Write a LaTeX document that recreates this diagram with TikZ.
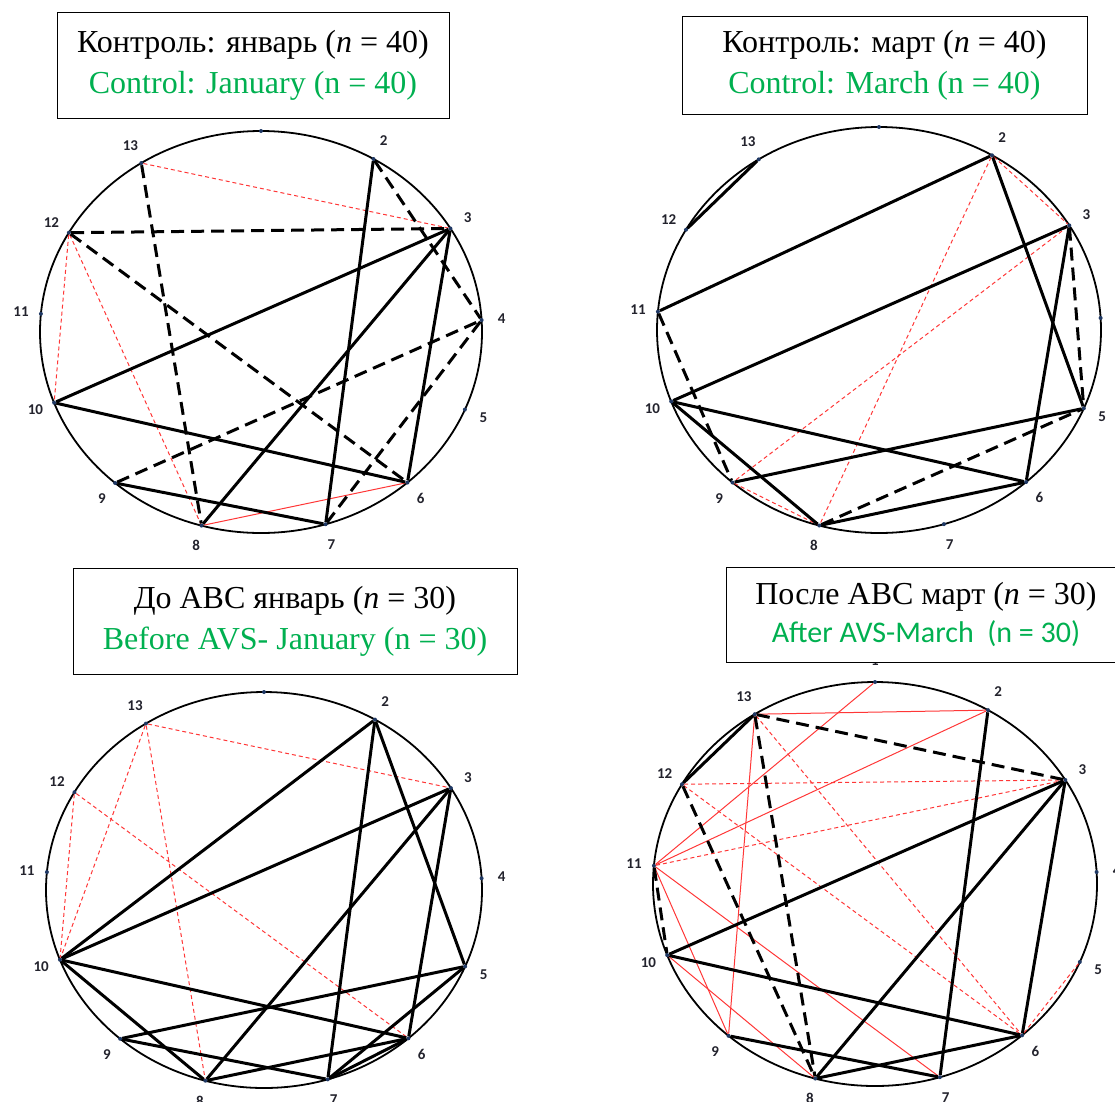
\documentclass[tikz,border=0pt]{standalone}
\usepackage{fontspec}
\setmainfont{Liberation Serif}
\newfontfamily\lblfont{Carlito}
\usetikzlibrary{positioning}
\definecolor{engreen}{RGB}{0,176,80}
\definecolor{tiered}{RGB}{255,55,55}
\definecolor{dotblue}{RGB}{31,56,100}
\definecolor{lblcol}{RGB}{35,35,45}
% point angles on the ring (deg, counter-clockwise from east)
\newcommand{\ringpts}{1/90,2/59.4,3/31,4/3.4,5/-22.7,6/-48.5,7/-73,8/-105.6,9/-131.3,10/-159.4,11/-185.2,12/-209.6,13/-237.2}
% #1 prefix, #2 cx, #3 cy, #4 rx, #5 ry, #6 point whose number is not shown (0 = none)
\newcommand{\drawring}[6]{%
  \draw[ring] (#2,#3) ellipse [x radius=#4, y radius=#5];
  \foreach \i/\a in \ringpts {
    \node[dot] (#1\i) at ({#2+#4*cos(\a)},{#3-#5*sin(\a)}) {};
    \ifnum\i=#6\relax\else
      \node[lbl] (#1l\i) at ({#2+(#4+20)*cos(\a)},{#3-(#5+21)*sin(\a)}) {\i};
    \fi
  }%
}
\tikzset{
  % --- ring + points ---
  ring/.style       = {line width=1.8pt, black},
  dot/.style        = {circle, fill=dotblue, inner sep=0pt, minimum size=4pt},
  lbl/.style        = {font=\lblfont\bfseries\fontsize{15}{15}\selectfont,
                       text=lblcol, inner sep=0pt},
  % --- links ---
  strong/.style     = {line width=3pt, black},
  strongdash/.style = {line width=3pt, black, dash pattern=on 13pt off 7pt},
  weak/.style       = {line width=1pt, tiered},
  weakdash/.style   = {line width=1pt, tiered, dash pattern=on 4pt off 3pt},
  % --- titles ---
  titlebox/.style   = {draw, line width=1pt, fill=white, align=center,
                       inner sep=0pt, font=\fontsize{32}{41}\selectfont},
}

\begin{document}
\begin{tikzpicture}[x=1pt, y=-1pt]
  \useasboundingbox (0,0) rectangle (1115,1101);

  % ===================================================================
  %  RINGS
  % ===================================================================
  \drawring{a}{261}{332}{221}{201}{0}
  \drawring{b}{879}{330}{222}{203}{4}
  \drawring{c}{264}{890}{218}{198}{0}
  \drawring{d}{875}{884}{222}{202}{0}

  % ===================================================================
  %  TOP LEFT
  % ===================================================================
  \draw[weakdash] (a13) -- (a3);
  \draw[weakdash] (a12) -- (a10);
  \draw[weakdash] (a12) -- (a8);
  \draw[weak] (a8) -- (a6);
  \draw[strongdash] (a13) -- (a8);
  \draw[strongdash] (a12) -- (a3);
  \draw[strongdash] (a12) -- (a6);
  \draw[strongdash] (a2) -- (a4);
  \draw[strongdash] (a9) -- (a4);
  \draw[strongdash] (a4) -- (a7);
  \draw[strong] (a2) -- (a7);
  \draw[strong] (a3) -- (a10);
  \draw[strong] (a3) -- (a8);
  \draw[strong] (a3) -- (a6);
  \draw[strong] (a10) -- (a6);
  \draw[strong] (a9) -- (a7);

  % ===================================================================
  %  TOP RIGHT
  % ===================================================================
  \draw[weakdash] (b2) -- (b3);
  \draw[weakdash] (b2) -- (b8);
  \draw[weakdash] (b3) -- (b9);
  \draw[weakdash] (b9) -- (b8);
  \draw[strongdash] (b3) -- (b5);
  \draw[strongdash] (b11) -- (b9);
  \draw[strongdash] (b8) -- (b5);
  \draw[strong] (b13) -- (b12);
  \draw[strong] (b2) -- (b11);
  \draw[strong] (b3) -- (b10);
  \draw[strong] (b2) -- (b5);
  \draw[strong] (b3) -- (b6);
  \draw[strong] (b10) -- (b6);
  \draw[strong] (b10) -- (b8);
  \draw[strong] (b9) -- (b5);
  \draw[strong] (b8) -- (b6);

  % ===================================================================
  %  BOTTOM LEFT
  % ===================================================================
  \draw[weakdash] (c13) -- (c3);
  \draw[weakdash] (c13) -- (c10);
  \draw[weakdash] (c13) -- (c8);
  \draw[weakdash] (c12) -- (c10);
  \draw[weakdash] (c12) -- (c6);
  \draw[strong] (c2) -- (c10);
  \draw[strong] (c2) -- (c7);
  \draw[strong] (c2) -- (c5);
  \draw[strong] (c3) -- (c10);
  \draw[strong] (c3) -- (c8);
  \draw[strong] (c3) -- (c6);
  \draw[strong] (c10) -- (c6);
  \draw[strong] (c10) -- (c8);
  \draw[strong] (c9) -- (c5);
  \draw[strong] (c9) -- (c7);
  \draw[strong] (c8) -- (c6);
  \draw[strong] (c7) -- (c6);
  \draw[strong] (c7) -- (c5);

  % ===================================================================
  %  BOTTOM RIGHT
  % ===================================================================
  \draw[weak] (d1) -- (d11);
  \draw[weak] (d13) -- (d2);
  \draw[weak] (d13) -- (d9);
  \draw[weak] (d2) -- (d11);
  \draw[weak] (d11) -- (d9);
  \draw[weak] (d11) -- (d7);
  \draw[weak] (d10) -- (d8);
  \draw[weakdash] (d13) -- (d6);
  \draw[weakdash] (d12) -- (d3);
  \draw[weakdash] (d12) -- (d6);
  \draw[weakdash] (d11) -- (d3);
  \draw[weakdash] (d5) -- (d6);
  \draw[strongdash] (d13) -- (d3);
  \draw[strongdash] (d13) -- (d8);
  \draw[strongdash] (d12) -- (d8);
  \draw[strongdash] (d11) -- (d10);
  \draw[strong] (d13) -- (d12);
  \draw[strong] (d2) -- (d7);
  \draw[strong] (d3) -- (d10);
  \draw[strong] (d3) -- (d8);
  \draw[strong] (d3) -- (d6);
  \draw[strong] (d10) -- (d6);
  \draw[strong] (d9) -- (d7);
  \draw[strong] (d8) -- (d6);

  % ===================================================================
  %  TITLES
  % ===================================================================
  \node[titlebox, minimum width=392pt, minimum height=106pt] (ttlA) at (253,65)
    {Контроль: январь (\textit{n} = 40)\\\textcolor{engreen}{Control: January (n = 40)}};
  \node[titlebox, minimum width=405pt, minimum height=98pt] (ttlB) at (884.5,65)
    {Контроль: март (\textit{n} = 40)\\\textcolor{engreen}{Control: March (n = 40)}};
  \node[titlebox, minimum width=444pt, minimum height=106pt] (ttlC) at (295,621)
    {До АВС январь (\textit{n} = 30)\\\textcolor{engreen}{Before AVS- January (n = 30)}};
  \node[titlebox, minimum width=400pt, minimum height=95pt] (ttlD) at (926,614.5)
    {После АВС март (\textit{n} = 30)\\[-3pt]\textcolor{engreen}{\lblfont\fontsize{30}{36}\selectfont After AVS-March\ \ (n = 30)}};
\end{tikzpicture}
\end{document}
